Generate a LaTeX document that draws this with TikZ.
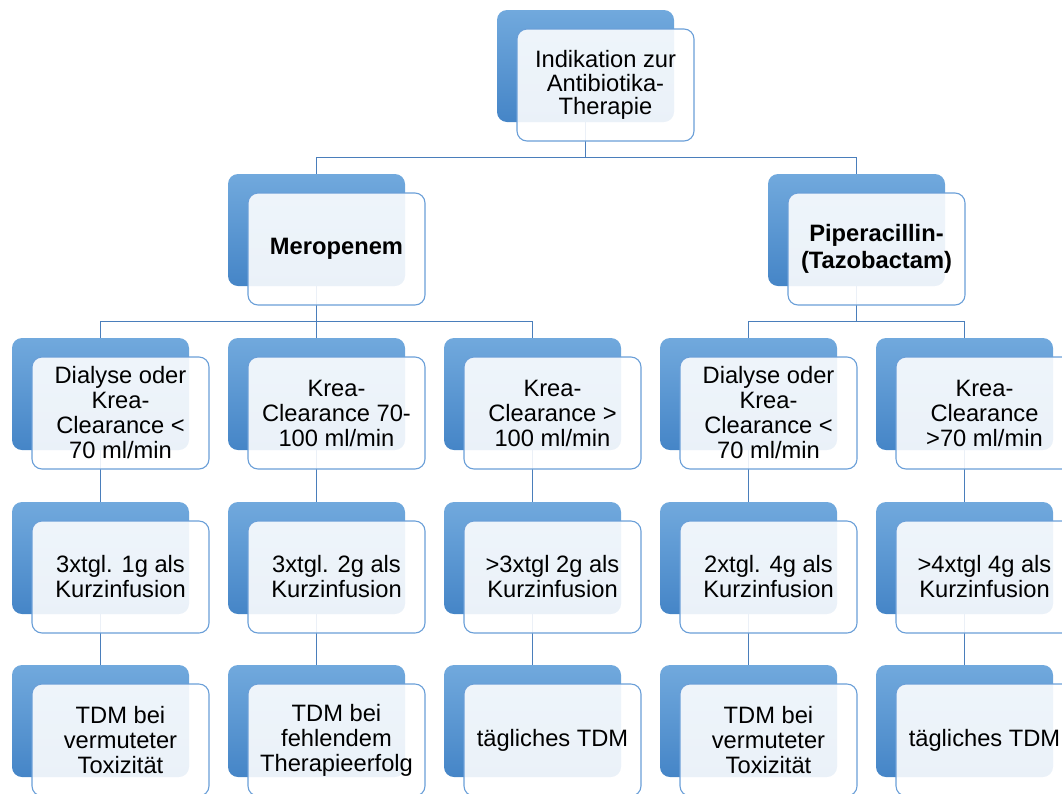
\documentclass[tikz,border=0pt]{standalone}
\usepackage{fontspec}
\setmainfont{Liberation Sans}
\usetikzlibrary{positioning, calc}

\definecolor{backtop}{HTML}{71A9DD}
\definecolor{backbot}{HTML}{4585C7}
\definecolor{frameblue}{HTML}{6A9FD8}
\definecolor{lineblue}{HTML}{4A7EBB}

\tikzset{
  back/.style={rounded corners=10pt, minimum width=177pt, minimum height=112pt,
    top color=backtop, bottom color=backbot, draw=none, inner sep=0pt},
  front/.style={rounded corners=10pt, minimum width=177pt, minimum height=112pt,
    draw=frameblue, line width=1.1pt, fill=white, fill opacity=0.89, text opacity=1,
    align=center, inner sep=0pt, font=\fontsize{23.7}{25}\selectfont},
  bold/.style={font=\fontsize{23.7}{27}\selectfont\bfseries},
  conn/.style={draw=lineblue, line width=1.1pt}
}

\begin{document}
\begin{tikzpicture}[x=1pt, y=-1pt]
  \useasboundingbox (0,0) rectangle (1062,793);
  \clip (0,0) rectangle (1062,793);

  \node[back] (indik) at (585.5,66) {};
  \node[back] (mero) at (316.5,230) {};
  \node[back] (pip) at (856.5,230) {};
  \node[back] (mdial) at (100.5,394) {};
  \node[back] (mkrea) at (316.5,394) {};
  \node[back] (mhigh) at (532.5,394) {};
  \node[back] (pdial) at (748.5,394) {};
  \node[back] (phigh) at (964.5,394) {};
  \node[back] (mdialdose) at (100.5,558) {};
  \node[back] (mkreadose) at (316.5,558) {};
  \node[back] (mhighdose) at (532.5,558) {};
  \node[back] (pdialdose) at (748.5,558) {};
  \node[back] (phighdose) at (964.5,558) {};
  \node[back] (mdialtdm) at (100.5,721) {};
  \node[back] (mkreatdm) at (316.5,721) {};
  \node[back] (mhightdm) at (532.5,721) {};
  \node[back] (pdialtdm) at (748.5,721) {};
  \node[back] (phightdm) at (964.5,721) {};

  \draw[conn] (indik.south) -- ++(0,35) -| (mero.north);
  \draw[conn] (indik.south) -- ++(0,35) -| (pip.north);
  \draw[conn] (mero.south) -- ++(0,35) -| (mdial.north);
  \draw[conn] (mero.south) -- ++(0,35) -| (mkrea.north);
  \draw[conn] (mero.south) -- ++(0,35) -| (mhigh.north);
  \draw[conn] (pip.south) -- ++(0,35) -| (pdial.north);
  \draw[conn] (pip.south) -- ++(0,35) -| (phigh.north);
  \draw[conn] (mdial.south) -- (mdialdose.north);
  \draw[conn] (mkrea.south) -- (mkreadose.north);
  \draw[conn] (mhigh.south) -- (mhighdose.north);
  \draw[conn] (pdial.south) -- (pdialdose.north);
  \draw[conn] (phigh.south) -- (phighdose.north);
  \draw[conn] (mdialdose.south) -- (mdialtdm.north);
  \draw[conn] (mkreadose.south) -- (mkreatdm.north);
  \draw[conn] (mhighdose.south) -- (mhightdm.north);
  \draw[conn] (pdialdose.south) -- (pdialtdm.north);
  \draw[conn] (phighdose.south) -- (phightdm.north);

  \node[front, font=\fontsize{23.7}{23.5}\selectfont] (indik-t) at ($(indik)+(20,19)$) {Indikation zur\\Antibiotika-\\Therapie};
  \node[front, bold] (mero-t) at ($(mero)+(20,19)$) {Meropenem};
  \node[front, bold] (pip-t) at ($(pip)+(20,19)$) {Piperacillin-\\(Tazobactam)};
  \node[front] (mdial-t) at ($(mdial)+(20,19)$) {Dialyse oder\\Krea-\\Clearance <\\70 ml/min};
  \node[front] (mkrea-t) at ($(mkrea)+(20,19)$) {Krea-\\Clearance 70-\\100 ml/min};
  \node[front] (mhigh-t) at ($(mhigh)+(20,19)$) {Krea-\\Clearance >\\100 ml/min};
  \node[front] (pdial-t) at ($(pdial)+(20,19)$) {Dialyse oder\\Krea-\\Clearance <\\70 ml/min};
  \node[front] (phigh-t) at ($(phigh)+(20,19)$) {Krea-\\Clearance\\>70 ml/min};
  \node[front] (mdialdose-t) at ($(mdialdose)+(20,19)$) {3xtgl. 1g als\\Kurzinfusion};
  \node[front] (mkreadose-t) at ($(mkreadose)+(20,19)$) {3xtgl. 2g als\\Kurzinfusion};
  \node[front] (mhighdose-t) at ($(mhighdose)+(20,19)$) {>3xtgl 2g als\\Kurzinfusion};
  \node[front] (pdialdose-t) at ($(pdialdose)+(20,19)$) {2xtgl. 4g als\\Kurzinfusion};
  \node[front] (phighdose-t) at ($(phighdose)+(20,19)$) {>4xtgl 4g als\\Kurzinfusion};
  \node[front] (mdialtdm-t) at ($(mdialtdm)+(20,19)$) {TDM bei\\vermuteter\\Toxizität};
  \node[front] (mkreatdm-t) at ($(mkreatdm)+(20,19)$) {TDM bei\\fehlendem\\Therapieerfolg};
  \node[front] (mhightdm-t) at ($(mhightdm)+(20,19)$) {tägliches TDM};
  \node[front] (pdialtdm-t) at ($(pdialtdm)+(20,19)$) {TDM bei\\vermuteter\\Toxizität};
  \node[front] (phightdm-t) at ($(phightdm)+(20,19)$) {tägliches TDM};
\end{tikzpicture}
\end{document}
